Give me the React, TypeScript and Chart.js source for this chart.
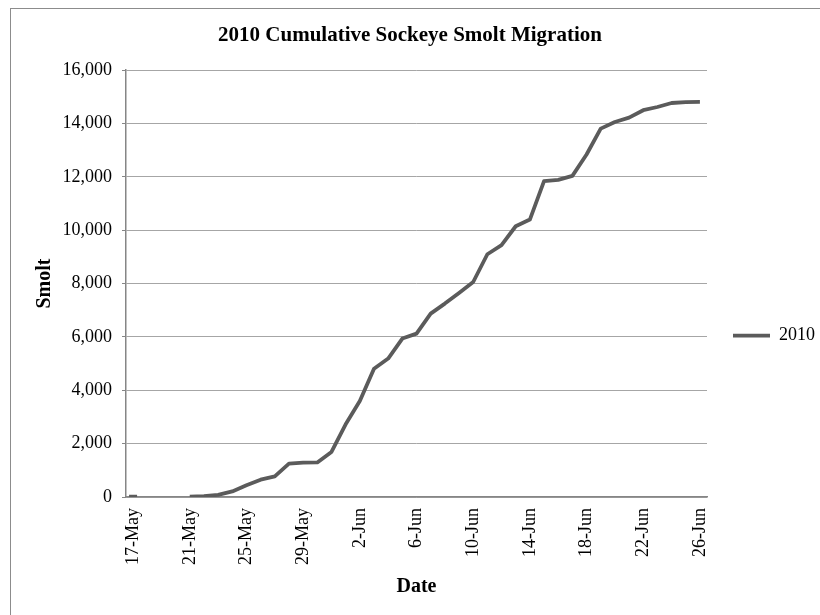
import { useEffect, useRef } from 'react';
import { Chart, registerables } from 'chart.js';

Chart.register(...registerables);

const chartTitle = '2010 Cumulative Sockeye Smolt Migration';
const xAxisTitle = 'Date';
const yAxisTitle = 'Smolt';
const seriesName = '2010';

const dates = [
  '17-May', '18-May', '19-May', '20-May', '21-May', '22-May', '23-May', '24-May',
  '25-May', '26-May', '27-May', '28-May', '29-May', '30-May', '31-May',
  '1-Jun', '2-Jun', '3-Jun', '4-Jun', '5-Jun', '6-Jun', '7-Jun', '8-Jun', '9-Jun',
  '10-Jun', '11-Jun', '12-Jun', '13-Jun', '14-Jun', '15-Jun', '16-Jun', '17-Jun',
  '18-Jun', '19-Jun', '20-Jun', '21-Jun', '22-Jun', '23-Jun', '24-Jun', '25-Jun', '26-Jun',
];

const smolt2010: (number | null)[] = [
  10, null, null, null, 15, 35, 80, 210,
  440, 650, 775, 1250, 1290, 1295, 1690,
  2725, 3600, 4810, 5190, 5940, 6125, 6875, 7250, 7650,
  8060, 9100, 9440, 10150, 10400, 11840, 11890, 12040,
  12840, 13810, 14060, 14220, 14500, 14620, 14770, 14805, 14810,
];

const yMin = 0;
const yMax = 16000;
const yStep = 2000;
const labelEvery = 4;

const FONT = "'Liberation Serif', 'Times New Roman', serif";
const LINE = '#5b5b5b';

const framePlugin = {
  id: 'frame',
  beforeDraw(chart: any) {
    const { ctx, width, height } = chart;
    ctx.save();
    ctx.fillStyle = '#ffffff';
    ctx.fillRect(0, 0, width, height);
    ctx.strokeStyle = '#8c8c8c';
    ctx.lineWidth = 1;
    ctx.strokeRect(10.5, 8.5, width + 100, height + 100);
    ctx.restore();
  },
};

export default function App() {
  const ref = useRef<HTMLCanvasElement | null>(null);

  useEffect(() => {
    if (!ref.current) return;
    const isolated = (i: number) =>
      smolt2010[i] !== null &&
      (i === 0 || smolt2010[i - 1] === null) &&
      (i === smolt2010.length - 1 || smolt2010[i + 1] === null);

    const chart = new Chart(ref.current, {
      type: 'line',
      data: {
        labels: dates,
        datasets: [
          {
            label: seriesName,
            data: smolt2010,
            borderColor: LINE,
            backgroundColor: LINE,
            borderWidth: 3.8,
            borderJoinStyle: 'round',
            tension: 0,
            spanGaps: false,
            pointStyle: 'line',
            pointRadius: (c: any) => (isolated(c.dataIndex) ? 4 : 0),
            pointHoverRadius: 0,
            pointBorderWidth: 3.8,
            pointBorderColor: LINE,
            pointBackgroundColor: LINE,
          },
        ],
      },
      options: {
        responsive: false,
        animation: false,
        events: [],
        layout: { padding: { top: 0, left: 0, right: 0, bottom: 0 } },
        plugins: {
          title: {
            display: true,
            text: chartTitle,
            color: '#000',
            font: { family: FONT, size: 21, weight: 'bold' },
            padding: { top: 23, bottom: 22 },
          },
          legend: {
            display: true,
            position: 'right',
            align: 'center',
            maxWidth: 113,
            title: { display: true, text: ' ', padding: { top: 42, bottom: 0 } },
            labels: {
              usePointStyle: true,
              pointStyle: 'line',
              pointStyleWidth: 37,
              padding: 26,
              color: '#000',
              font: { family: FONT, size: 18 },
            },
          },
          tooltip: { enabled: false },
        },
        scales: {
          x: {
            offset: true,
            grid: { display: true, drawOnChartArea: false, drawTicks: false },
            border: { display: true, color: '#868686', width: 1.5 },
            ticks: {
              autoSkip: false,
              maxRotation: 90,
              minRotation: 90,
              padding: 11,
              color: '#000',
              font: { family: FONT, size: 18 },
              callback: (_v: any, i: number) => (i % labelEvery === 0 ? dates[i] : ''),
            },
            title: {
              display: true,
              text: xAxisTitle,
              color: '#000',
              font: { family: FONT, size: 20, weight: 'bold' },
              padding: { top: 16, bottom: 16 },
            },
            afterFit: (s: any) => {
              s.height = 118;
            },
          },
          y: {
            min: yMin,
            max: yMax,
            grid: { color: '#a6a6a6', lineWidth: 1, tickLength: 4, tickColor: '#868686' },
            border: { display: true, color: '#868686', width: 1.5 },
            ticks: {
              stepSize: yStep,
              padding: 10,
              color: '#000',
              font: { family: FONT, size: 18 },
              callback: (v: any) => Number(v).toLocaleString('en-US'),
            },
            title: {
              display: true,
              text: yAxisTitle,
              color: '#000',
              font: { family: FONT, size: 20, weight: 'bold' },
              padding: { top: 33, bottom: 33 },
            },
            afterFit: (s: any) => {
              s.width = 126;
            },
          },
        },
      } as any,
      plugins: [framePlugin],
    });
    return () => chart.destroy();
  }, []);

  return (
    <div style={{ position: 'absolute', left: 0, top: 0, width: 820, height: 615, overflow: 'hidden' }}>
      <canvas ref={ref} width={820} height={615} style={{ display: 'block' }} />
    </div>
  );
}
